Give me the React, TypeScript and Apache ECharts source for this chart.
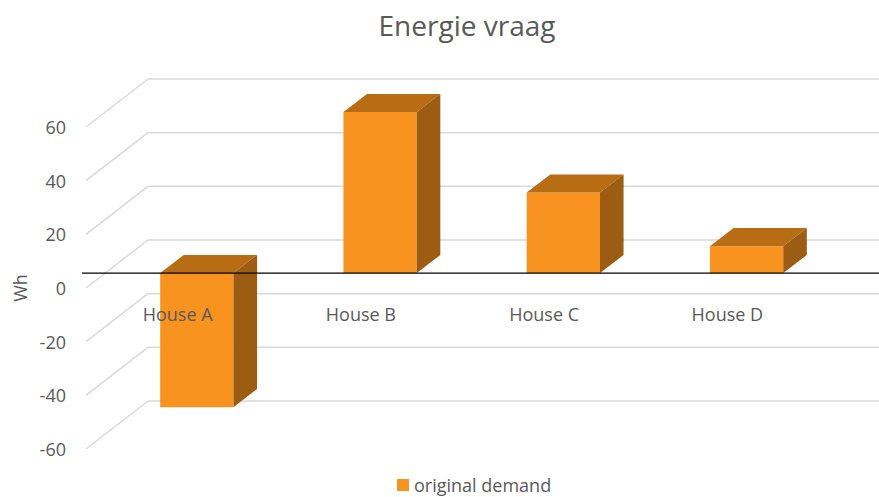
import React, { useEffect, useRef } from "react";
import * as echarts from "echarts";

const categories = ["House A", "House B", "House C", "House D"];
const demand = [-50, 60, 30, 10];
const yTicks = [-60, -40, -20, 0, 20, 40, 60];
const seriesName = "original demand";

const DX = 62;
const DY = -48;
const D1 = 0.31;
const D2 = 0.69;

export default function App() {
  const ref = useRef<HTMLDivElement>(null);
  useEffect(() => {
    const chart = echarts.init(ref.current!, undefined, { renderer: "svg" });
    const option: any = {
      animation: false,
      backgroundColor: "#ffffff",
      textStyle: { fontFamily: "Open Sans" },
      title: {
        text: "Energie vraag",
        left: 462,
        textAlign: "center",
        top: 6,
        textStyle: { fontSize: 28, fontWeight: "normal", color: "#595959", fontFamily: "Open Sans" },
      },
      legend: {
        data: [seriesName],
        left: 392,
        top: 471,
        icon: "rect",
        itemWidth: 12,
        itemHeight: 12,
        itemGap: 10,
        textStyle: { fontSize: 18, color: "#595959", fontFamily: "Open Sans" },
      },
      grid: { left: 86, right: 60, top: 127, bottom: 48 },
      xAxis: {
        type: "category",
        data: categories,
        offset: -161,
        z: 10,
        axisLine: { show: false, onZero: false },
        axisTick: { show: false },
        axisLabel: { margin: 17, fontSize: 18, color: "#595959", fontFamily: "Open Sans" },
        splitLine: { show: false },
      },
      yAxis: {
        type: "value",
        min: -60,
        max: 60,
        interval: 20,
        name: "Wh",
        nameLocation: "middle",
        nameGap: 50,
        nameTextStyle: { fontSize: 18, color: "#595959", fontFamily: "Open Sans" },
        axisLine: { show: false },
        axisTick: { show: false },
        axisLabel: { margin: 20, fontSize: 18, color: "#595959", fontFamily: "Open Sans" },
        splitLine: { show: false },
      },
      series: [
        {
          type: "custom",
          name: "grid3d",
          z: 1,
          clip: false,
          silent: true,
          data: yTicks.map((v) => [0, v]),
          encode: { x: 0, y: 1 },
          renderItem: (params: any, api: any) => {
            const v = api.value(1);
            const p = api.coord([0, v]);
            const xL = params.coordSys.x;
            const y = p[1];
            const W = api.getWidth();
            const style = { stroke: "#D9D9D9", lineWidth: 1.5, fill: null };
            return {
              type: "group",
              children: [
                { type: "line", shape: { x1: xL, y1: y, x2: xL + DX, y2: y + DY }, style },
                { type: "line", shape: { x1: xL + DX, y1: y + DY, x2: W, y2: y + DY }, style },
              ],
            };
          },
        },
        {
          type: "custom",
          name: seriesName,
          z: 2,
          clip: false,
          itemStyle: { color: "#F7931E" },
          data: demand.map((v, i) => [i, v]),
          encode: { x: 0, y: 1 },
          renderItem: (params: any, api: any) => {
            const idx = api.value(0);
            const v = api.value(1);
            const p0 = api.coord([idx, 0]);
            const p1 = api.coord([idx, v]);
            const band = api.size([1, 0])[0];
            const w = band * 0.4;
            const xl = p0[0] - w / 2 + D1 * DX;
            const xr = xl + w;
            const yTop = Math.min(p0[1], p1[1]) + D1 * DY;
            const yBot = Math.max(p0[1], p1[1]) + D1 * DY;
            const ox = (D2 - D1) * DX;
            const oy = (D2 - D1) * DY;
            return {
              type: "group",
              children: [
                {
                  type: "rect",
                  shape: { x: xl, y: yTop, width: w, height: yBot - yTop },
                  style: { fill: "#F7931E" },
                },
                {
                  type: "polygon",
                  shape: { points: [[xl, yTop], [xr, yTop], [xr + ox, yTop + oy], [xl + ox, yTop + oy]] },
                  style: { fill: "#B86D14" },
                },
                {
                  type: "polygon",
                  shape: { points: [[xr, yTop], [xr + ox, yTop + oy], [xr + ox, yBot + oy], [xr, yBot]] },
                  style: { fill: "#9C5C12" },
                },
              ],
            };
          },
        },
        {
          type: "custom",
          name: "zeroLine",
          z: 3,
          clip: false,
          silent: true,
          data: [[0, 0]],
          encode: { x: 0, y: 1 },
          renderItem: (params: any, api: any) => {
            const p = api.coord([0, 0]);
            const y = p[1] + D1 * DY;
            return {
              type: "line",
              shape: { x1: params.coordSys.x - 4, y1: y, x2: api.getWidth(), y2: y },
              style: { stroke: "#000000", lineWidth: 1.2 },
            };
          },
        },
      ],
    };
    chart.setOption(option);
    return () => chart.dispose();
  }, []);
  return (
    <div
      ref={ref}
      style={{ position: "absolute", left: 0, top: 0, width: 879, height: 497 }}
    />
  );
}
